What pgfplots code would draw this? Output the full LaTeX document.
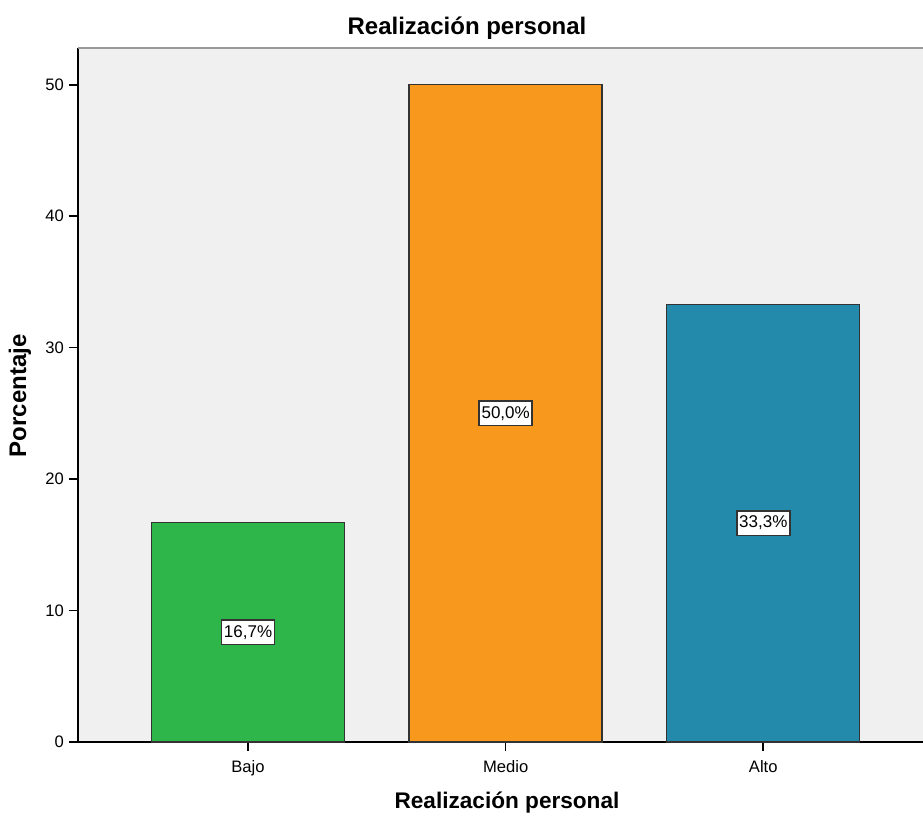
\documentclass[border=0pt]{standalone}
\usepackage{fontspec}
\setmainfont{Liberation Sans}
\usepackage{pgfplots}
\pgfplotsset{compat=1.18}
\definecolor{bg}{HTML}{F0F0F0}
\definecolor{cgreen}{HTML}{2EB64A}
\definecolor{corange}{HTML}{F8991D}
\definecolor{cteal}{HTML}{248AAB}
\begin{document}
\begin{tikzpicture}
\useasboundingbox (-39pt,-38pt) rectangle (422.5pt,371pt);
\begin{axis}[
  scale only axis,
  width=422.5pt, height=347pt,
  xmin=-0.66, xmax=2.62,
  ymin=0, ymax=52.8,
  axis lines=left,
  axis line style={-, black, line width=0.8pt},
  axis background/.style={fill=bg},
  xtick={0,1,2},
  xticklabels={Bajo,Medio,Alto},
  ytick={0,10,20,30,40,50},
  tick align=outside,
  major tick length=4.5pt,
  tick style={black, line width=0.8pt},
  minor tick num=0,
  ticklabel style={font=\fontsize{8.3}{10}\selectfont},
  /pgf/number format/assume math mode=true,
  xticklabel style={yshift=-1pt},
  yticklabel style={xshift=1pt},
  clip=false,
]
\draw[gray!80, line width=1.2pt] (rel axis cs:0,1) -- (rel axis cs:1,1);
\addplot[ybar, bar width=96.5pt, fill=cgreen, draw=black!80, line width=0.7pt] coordinates {(0,16.7)};
\addplot[ybar, bar width=96.5pt, fill=corange, draw=black!80, line width=0.7pt] coordinates {(1,50.0)};
\addplot[ybar, bar width=96.5pt, fill=cteal, draw=black!80, line width=0.7pt] coordinates {(2,33.3)};
\tikzset{lab/.style={fill=white, draw=black!80, line width=0.8pt, inner xsep=1.2pt, inner ysep=2.6pt, font=\fontsize{8.5}{10}\selectfont}}
\node[lab] at (axis cs:0,8.35) {16,7\%};
\node[lab] at (axis cs:1,25) {50,0\%};
\node[lab] at (axis cs:2,16.65) {33,3\%};
\end{axis}
\node[font=\bfseries\fontsize{12}{14}\selectfont] at (194.5pt,357pt) {Realización personal};
\node[font=\bfseries\fontsize{11.3}{14}\selectfont] at (214.5pt,-30.5pt) {Realización personal};
\node[font=\bfseries\fontsize{12}{14}\selectfont, rotate=90] at (-29pt,173pt) {Porcentaje};
\end{tikzpicture}
\end{document}
